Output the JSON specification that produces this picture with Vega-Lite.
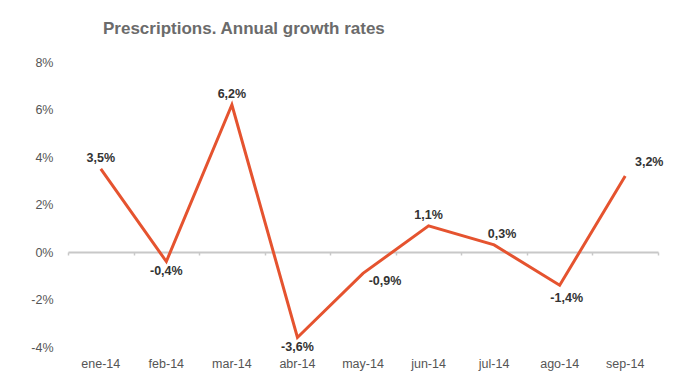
{
  "$schema": "https://vega.github.io/schema/vega-lite/v6.json",
  "autosize": "none",
  "width": 590,
  "height": 285,
  "padding": {"left": 68, "top": 62, "right": 18, "bottom": 27},
  "background": "white",
  "config": {"view": {"stroke": null}, "font": "Liberation Sans"},
  "title": {
    "text": "Prescriptions. Annual growth rates",
    "anchor": "start",
    "frame": "group",
    "dx": 35,
    "offset": 18,
    "fontSize": 17,
    "fontWeight": "bold",
    "color": "#6b6b6b",
    "font": "Liberation Sans"
  },
  "data": {
    "values": [
      {"month": "ene-14", "value": 3.5, "label": "3,5%"},
      {"month": "feb-14", "value": -0.4, "label": "-0,4%"},
      {"month": "mar-14", "value": 6.2, "label": "6,2%"},
      {"month": "abr-14", "value": -3.6, "label": "-3,6%"},
      {"month": "may-14", "value": -0.9, "label": "-0,9%"},
      {"month": "jun-14", "value": 1.1, "label": "1,1%"},
      {"month": "jul-14", "value": 0.3, "label": "0,3%"},
      {"month": "ago-14", "value": -1.4, "label": "-1,4%"},
      {"month": "sep-14", "value": 3.2, "label": "3,2%"}
    ]
  },
  "resolve": {"axis": {"x": "independent"}},
  "layer": [
    {
      "mark": {"type": "line", "color": "#e5532f", "strokeWidth": 3, "strokeJoin": "miter"},
      "encoding": {
        "x": {
          "field": "month", "type": "ordinal", "sort": null,
          "scale": {"paddingInner": 0, "paddingOuter": 0},
          "axis": {
            "title": null, "orient": "bottom", "domain": false, "ticks": false,
            "labelAngle": 0, "labelFontSize": 12.5, "labelColor": "#555555",
            "labelPadding": 10, "labelFont": "Liberation Sans"
          }
        },
        "y": {
          "field": "value", "type": "quantitative",
          "scale": {"domain": [-4, 8], "nice": false},
          "axis": {
            "title": null, "values": [-4, -2, 0, 2, 4, 6, 8], "labelExpr": "datum.value + '%'",
            "domain": false, "ticks": false, "grid": false,
            "labelFontSize": 12.5, "labelColor": "#555555", "labelPadding": 15,
            "labelFont": "Liberation Sans"
          }
        }
      }
    },
    {
      "mark": {"type": "rule", "opacity": 0},
      "encoding": {
        "x": {
          "field": "month", "type": "ordinal", "sort": null,
          "axis": {
            "title": null, "orient": "bottom", "offset": -95, "labels": false,
            "domain": true, "domainColor": "#c8c8c8", "domainWidth": 2,
            "ticks": true, "tickBand": "extent", "tickColor": "#c8c8c8", "tickSize": 3, "tickWidth": 1.5
          }
        }
      }
    },
    {
      "transform": [{"filter": "indexof(['ene-14','mar-14','jun-14'], datum.month) >= 0"}],
      "mark": {"type": "text", "dy": -11, "fontSize": 12.5, "fontWeight": "bold", "color": "#333333", "font": "Liberation Sans"},
      "encoding": {
        "x": {"field": "month", "type": "ordinal", "sort": null, "axis": null},
        "y": {"field": "value", "type": "quantitative", "axis": {"title": null}},
        "text": {"field": "label"}
      }
    },
    {
      "transform": [{"filter": "indexof(['feb-14','abr-14'], datum.month) >= 0"}],
      "mark": {"type": "text", "dy": 9, "fontSize": 12.5, "fontWeight": "bold", "color": "#333333", "font": "Liberation Sans"},
      "encoding": {
        "x": {"field": "month", "type": "ordinal", "sort": null, "axis": null},
        "y": {"field": "value", "type": "quantitative", "axis": {"title": null}},
        "text": {"field": "label"}
      }
    },
    {
      "transform": [{"filter": "datum.month == 'may-14'"}],
      "mark": {"type": "text", "dx": 22, "dy": 8, "fontSize": 12.5, "fontWeight": "bold", "color": "#333333", "font": "Liberation Sans"},
      "encoding": {
        "x": {"field": "month", "type": "ordinal", "sort": null, "axis": null},
        "y": {"field": "value", "type": "quantitative", "axis": {"title": null}},
        "text": {"field": "label"}
      }
    },
    {
      "transform": [{"filter": "datum.month == 'jul-14'"}],
      "mark": {"type": "text", "dx": 8, "dy": -11, "fontSize": 12.5, "fontWeight": "bold", "color": "#333333", "font": "Liberation Sans"},
      "encoding": {
        "x": {"field": "month", "type": "ordinal", "sort": null, "axis": null},
        "y": {"field": "value", "type": "quantitative", "axis": {"title": null}},
        "text": {"field": "label"}
      }
    },
    {
      "transform": [{"filter": "datum.month == 'ago-14'"}],
      "mark": {"type": "text", "dx": 7, "dy": 13, "fontSize": 12.5, "fontWeight": "bold", "color": "#333333", "font": "Liberation Sans"},
      "encoding": {
        "x": {"field": "month", "type": "ordinal", "sort": null, "axis": null},
        "y": {"field": "value", "type": "quantitative", "axis": {"title": null}},
        "text": {"field": "label"}
      }
    },
    {
      "transform": [{"filter": "datum.month == 'sep-14'"}],
      "mark": {"type": "text", "dx": 24, "dy": -14, "fontSize": 12.5, "fontWeight": "bold", "color": "#333333", "font": "Liberation Sans"},
      "encoding": {
        "x": {"field": "month", "type": "ordinal", "sort": null, "axis": null},
        "y": {"field": "value", "type": "quantitative", "axis": {"title": null}},
        "text": {"field": "label"}
      }
    }
  ]
}
